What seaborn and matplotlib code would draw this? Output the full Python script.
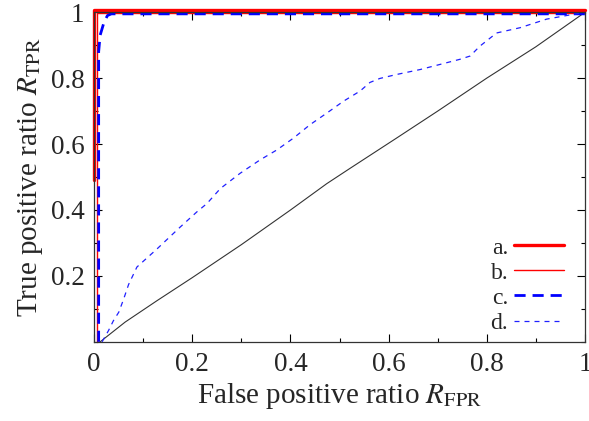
import matplotlib
matplotlib.use("Agg")
import matplotlib.pyplot as plt
import seaborn as sns
import pandas as pd
from matplotlib.ticker import MultipleLocator

# ---- data ----
a_fpr = [0.0, 0.0, 1.0]
a_tpr = [0.49, 1.007, 1.007]

b_fpr = [0.006, 0.006, 1.0]
b_tpr = [0.0, 0.999, 0.999]

c_fpr = [0.009, 0.009, 0.012, 0.02, 0.027, 0.035, 1.0]
c_tpr = [0.0, 0.88, 0.93, 0.97, 0.99, 0.995, 0.995]

d_fpr = [0.016, 0.029, 0.039, 0.05, 0.06, 0.07, 0.087, 0.128, 0.175, 0.209, 0.23,
         0.257, 0.297, 0.338, 0.372, 0.406, 0.44, 0.474, 0.508, 0.542, 0.562,
         0.582, 0.616, 0.664, 0.745, 0.766, 0.786, 0.82, 0.868, 0.922, 0.963, 1.0]
d_tpr = [0.0, 0.034, 0.064, 0.09, 0.13, 0.174, 0.227, 0.282, 0.348, 0.394, 0.42,
         0.465, 0.511, 0.552, 0.582, 0.618, 0.659, 0.694, 0.73, 0.761, 0.787,
         0.799, 0.811, 0.826, 0.857, 0.867, 0.897, 0.937, 0.953, 0.979, 0.99, 1.0]

rand_fpr = [0.012, 0.063, 0.128, 0.2, 0.3, 0.4, 0.474, 0.521, 0.616, 0.7, 0.8, 0.9, 0.99, 1.0]
rand_tpr = [0.0, 0.06, 0.125, 0.195, 0.295, 0.4, 0.48, 0.526, 0.618, 0.7, 0.8, 0.895, 0.989, 1.0]

labels = ["a.", "b.", "c.", "d."]

sns.set_style("ticks")
plt.rcParams["font.family"] = ["Liberation Serif", "DejaVu Serif"]
plt.rcParams["mathtext.fontset"] = "stix"
plt.rcParams["xtick.direction"] = "in"
plt.rcParams["ytick.direction"] = "in"

fig = plt.figure(figsize=(5.89, 4.21), dpi=100)
ax = fig.add_axes([0.16, 0.188, 0.833, 0.783])

def df(x, y):
    return pd.DataFrame({"x": x, "y": y})

sns.lineplot(data=df(rand_fpr, rand_tpr), x="x", y="y", sort=False, estimator=None,
             color="#333333", lw=0.8, ax=ax)
sns.lineplot(data=df(a_fpr, a_tpr), x="x", y="y", sort=False, estimator=None,
             color="#ff0000", lw=2.4, ax=ax, label=labels[0], clip_on=False)
sns.lineplot(data=df(b_fpr, b_tpr), x="x", y="y", sort=False, estimator=None,
             color="#ff0000", lw=1.0, ax=ax, label=labels[1], clip_on=False)
sns.lineplot(data=df(c_fpr, c_tpr), x="x", y="y", sort=False, estimator=None,
             color="#0000ff", lw=2.0, ax=ax, label=labels[2],
             linestyle=(0, (4, 2.5)))
sns.lineplot(data=df(d_fpr, d_tpr), x="x", y="y", sort=False, estimator=None,
             color="#2020ff", lw=0.9, ax=ax, label=labels[3],
             linestyle=(0, (4, 4)))

ax.set_xlim(0, 1)
ax.set_ylim(0, 1)
ax.xaxis.set_minor_locator(MultipleLocator(0.1))
ax.yaxis.set_minor_locator(MultipleLocator(0.1))
ax.set_xticks([0, 0.2, 0.4, 0.6, 0.8, 1.0])
ax.set_xticklabels(["0", "0.2", "0.4", "0.6", "0.8", "1"])
ax.set_yticks([0.2, 0.4, 0.6, 0.8, 1.0])
ax.set_yticklabels(["0.2", "0.4", "0.6", "0.8", "1"])
ax.tick_params(which="both", top=True, right=True, direction="in", labelsize=19.5,
               width=0.8, color="black")
ax.tick_params(which="major", length=6, pad=7)
ax.tick_params(which="minor", length=3)
for s in ax.spines.values():
    s.set_linewidth(0.9)
    s.set_color("#333333")

ax.set_xlabel("False positive ratio $R_{\\mathrm{FPR}}$", fontsize=21, labelpad=3)
ax.set_ylabel("True positive ratio $R_{\\mathrm{TPR}}$", fontsize=21, labelpad=4)

leg = ax.legend(loc="lower right", frameon=False, markerfirst=False, fontsize=17,
                handlelength=2.1, labelspacing=0.15, handletextpad=0.25,
                bbox_to_anchor=(1.0, -0.04))

fig.savefig("out.png", dpi=100)
